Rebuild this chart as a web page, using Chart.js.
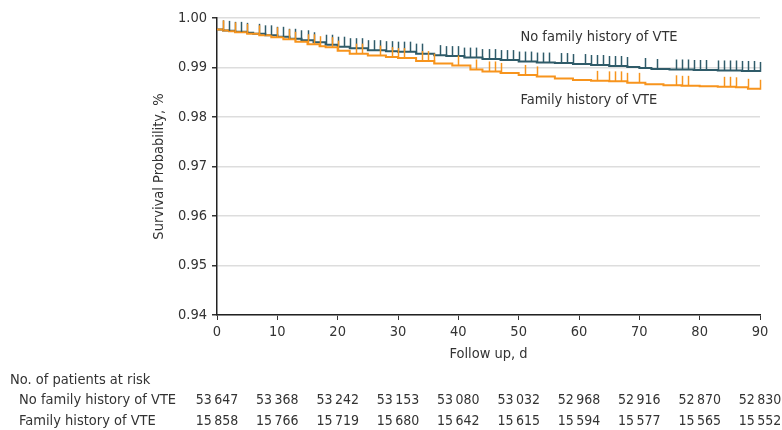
<!DOCTYPE html>
<html>
<head>
<meta charset="utf-8">
<style>
  body { margin: 0; background: #fff; }
  canvas { display: block; }
</style>
<script src="https://cdn.jsdelivr.net/npm/chart.js@4"></script>
</head>
<body>
<canvas id="km" width="782" height="430"></canvas>
<script>
// step times (days) and survival
const noFamDays = [0, 1, 2, 3, 5, 6, 8, 10, 12, 14, 16, 18, 20, 22, 25, 28, 30, 33, 36, 38, 41, 44, 47, 50, 53, 56, 59, 62, 65, 68, 70, 72, 75, 79, 83, 87, 90];
const noFamSurv = [0.9977, 0.9975, 0.9974, 0.9972, 0.9970, 0.9968, 0.9965, 0.9962, 0.9958, 0.9955, 0.9951, 0.9946, 0.9942, 0.9939, 0.9935, 0.9933, 0.9932, 0.9928, 0.9925, 0.9923, 0.9920, 0.9917, 0.9915, 0.9912, 0.9910, 0.9909, 0.9907, 0.9905, 0.9903, 0.9901, 0.9899, 0.9897, 0.9896, 0.9895, 0.9894, 0.9893, 0.9891];

const famDays = [0, 1, 2, 3, 5, 7, 9, 11, 13, 15, 17, 18, 20, 22, 25, 28, 30, 33, 36, 39, 42, 44, 47, 50, 53, 56, 59, 62, 65, 68, 71, 74, 77, 80, 83, 86, 88, 90];
const famSurv = [0.9977, 0.9975, 0.9973, 0.9971, 0.9968, 0.9965, 0.9961, 0.9957, 0.9952, 0.9947, 0.9943, 0.9941, 0.9934, 0.9928, 0.9924, 0.9921, 0.9919, 0.9913, 0.9908, 0.9904, 0.9896, 0.9892, 0.9889, 0.9885, 0.9882, 0.9878, 0.9875, 0.9873, 0.9872, 0.9869, 0.9866, 0.9864, 0.9863, 0.9862, 0.9861, 0.9860, 0.9857, 0.9855];

// censoring marks (days)
const noFamCensor = [1, 2, 3, 4, 5, 7, 8, 9, 10, 11, 12, 13, 14, 15, 16, 18, 19, 20, 21, 22, 23, 24, 25, 26, 27, 28, 29, 30, 31, 32, 33, 34, 37, 38, 39, 40, 41, 42, 43, 44, 45, 46, 47, 48, 49, 50, 51, 52, 53, 54, 55, 57, 58, 59, 61, 62, 63, 64, 65, 66, 67, 68, 71, 73, 76, 77, 78, 79, 80, 81, 83, 84, 85, 86, 87, 88, 89, 90];
const famCensor = [1, 3, 5, 7, 10, 12, 13, 15, 16, 17, 19, 20, 23, 24, 27, 29, 30, 31, 34, 35, 36, 40, 43, 45, 46, 47, 51, 53, 63, 65, 66, 67, 68, 70, 76, 77, 78, 84, 85, 86, 88, 90];

const riskDays = [0, 10, 20, 30, 40, 50, 60, 70, 80, 90];
const riskNoFam = [53647, 53368, 53242, 53153, 53080, 53032, 52968, 52916, 52870, 52830];
const riskFam = [15858, 15766, 15719, 15680, 15642, 15615, 15594, 15577, 15565, 15552];

const xTicks = [0, 10, 20, 30, 40, 50, 60, 70, 80, 90];
const yTicks = [0.94, 0.95, 0.96, 0.97, 0.98, 0.99, 1.00];

const DARK = '#2f5b69';
const ORANGE = '#f7941d';
const TEXT = '#333333';
const FONT = "'DejaVu Sans Condensed', 'Liberation Sans Narrow', sans-serif";
const SIZE = 14.5;

const toPoints = (days, surv) => days.map((d, i) => ({ x: d, y: surv[i] }));

function survAt(days, surv, t) {
  let v = surv[0];
  for (let i = 0; i < days.length; i++) {
    if (days[i] <= t) v = surv[i];
  }
  return v;
}

function fmt(n) {
  const s = String(n);
  return s.slice(0, s.length - 3) + '\u2009' + s.slice(-3);
}

const extras = {
  id: 'extras',
  afterDatasetsDraw(chart) {
    const { ctx, scales: { x, y } } = chart;
    ctx.save();
    // censor ticks
    const marks = [
      [noFamCensor, noFamDays, noFamSurv, DARK],
      [famCensor, famDays, famSurv, ORANGE]
    ];
    marks.forEach(([cens, days, surv, col]) => {
      ctx.strokeStyle = col;
      ctx.lineWidth = 1.5;
      cens.forEach(t => {
        const px = Math.round(x.getPixelForValue(t)) + 0.5;
        const py = y.getPixelForValue(survAt(days, surv, t));
        ctx.beginPath();
        ctx.moveTo(px, py);
        ctx.lineTo(px, py - 10);
        ctx.stroke();
      });
    });
    ctx.restore();
  },
  afterDraw(chart) {
    const { ctx, chartArea, scales: { x, y } } = chart;
    ctx.save();
    ctx.fillStyle = TEXT;
    ctx.font = SIZE + 'px ' + FONT;
    ctx.textBaseline = 'middle';

    // curve labels
    ctx.textAlign = 'left';
    ctx.fillText('No family history of VTE', x.getPixelForValue(50.3), y.getPixelForValue(0.99615));
    ctx.fillText('Family history of VTE', x.getPixelForValue(50.3), y.getPixelForValue(0.98345));

    // axis titles
    ctx.textAlign = 'center';
    ctx.fillText('Follow up, d', (chartArea.left + chartArea.right) / 2, 354);
    ctx.save();
    ctx.translate(159, (chartArea.top + chartArea.bottom) / 2);
    ctx.rotate(-Math.PI / 2);
    ctx.fillText('Survival Probability, %', 0, 0);
    ctx.restore();

    // risk table
    ctx.textAlign = 'left';
    ctx.fillText('No. of patients at risk', 10, 380);
    ctx.fillText('No family history of VTE', 19, 400);
    ctx.fillText('Family history of VTE', 19, 421);
    ctx.font = '14px ' + FONT;
    ctx.textAlign = 'center';
    riskDays.forEach((d, i) => {
      const px = x.getPixelForValue(d);
      ctx.fillText(fmt(riskNoFam[i]), px, 400);
      ctx.fillText(fmt(riskFam[i]), px, 421);
    });
    ctx.restore();
  }
};

new Chart(document.getElementById('km'), {
  type: 'line',
  data: {
    datasets: [
      {
        label: 'No family history of VTE',
        data: toPoints(noFamDays, noFamSurv),
        borderColor: DARK,
        borderWidth: 2,
        stepped: 'before',
        pointRadius: 0,
        fill: false,
        order: 2
      },
      {
        label: 'Family history of VTE',
        data: toPoints(famDays, famSurv),
        borderColor: ORANGE,
        borderWidth: 2,
        stepped: 'before',
        pointRadius: 0,
        fill: false,
        order: 1
      }
    ]
  },
  options: {
    responsive: false,
    animation: false,
    layout: { padding: { left: 0, right: 22, top: 18, bottom: 0 } },
    plugins: {
      legend: { display: false },
      tooltip: { enabled: false }
    },
    scales: {
      x: {
        type: 'linear',
        min: 0,
        max: 90,
        afterBuildTicks: s => { s.ticks = xTicks.map(v => ({ value: v })); },
        afterFit: s => { s.height = 115; },
        grid: { drawOnChartArea: false, tickLength: 5, tickColor: TEXT },
        border: { color: '#222', width: 1.5 },
        ticks: { color: TEXT, padding: 4, maxRotation: 0, font: { family: FONT, size: SIZE } }
      },
      y: {
        type: 'linear',
        min: 0.94,
        max: 1.0,
        afterBuildTicks: s => { s.ticks = yTicks.map(v => ({ value: v })); },
        afterFit: s => { s.width = 217; },
        grid: { color: '#dddddd', lineWidth: 1.5, tickLength: 5, tickColor: TEXT },
        border: { color: '#222', width: 1.5 },
        ticks: {
          color: TEXT,
          padding: 5,
          font: { family: FONT, size: SIZE },
          callback: v => v.toFixed(2)
        }
      }
    }
  },
  plugins: [extras]
});
</script>
</body>
</html>
